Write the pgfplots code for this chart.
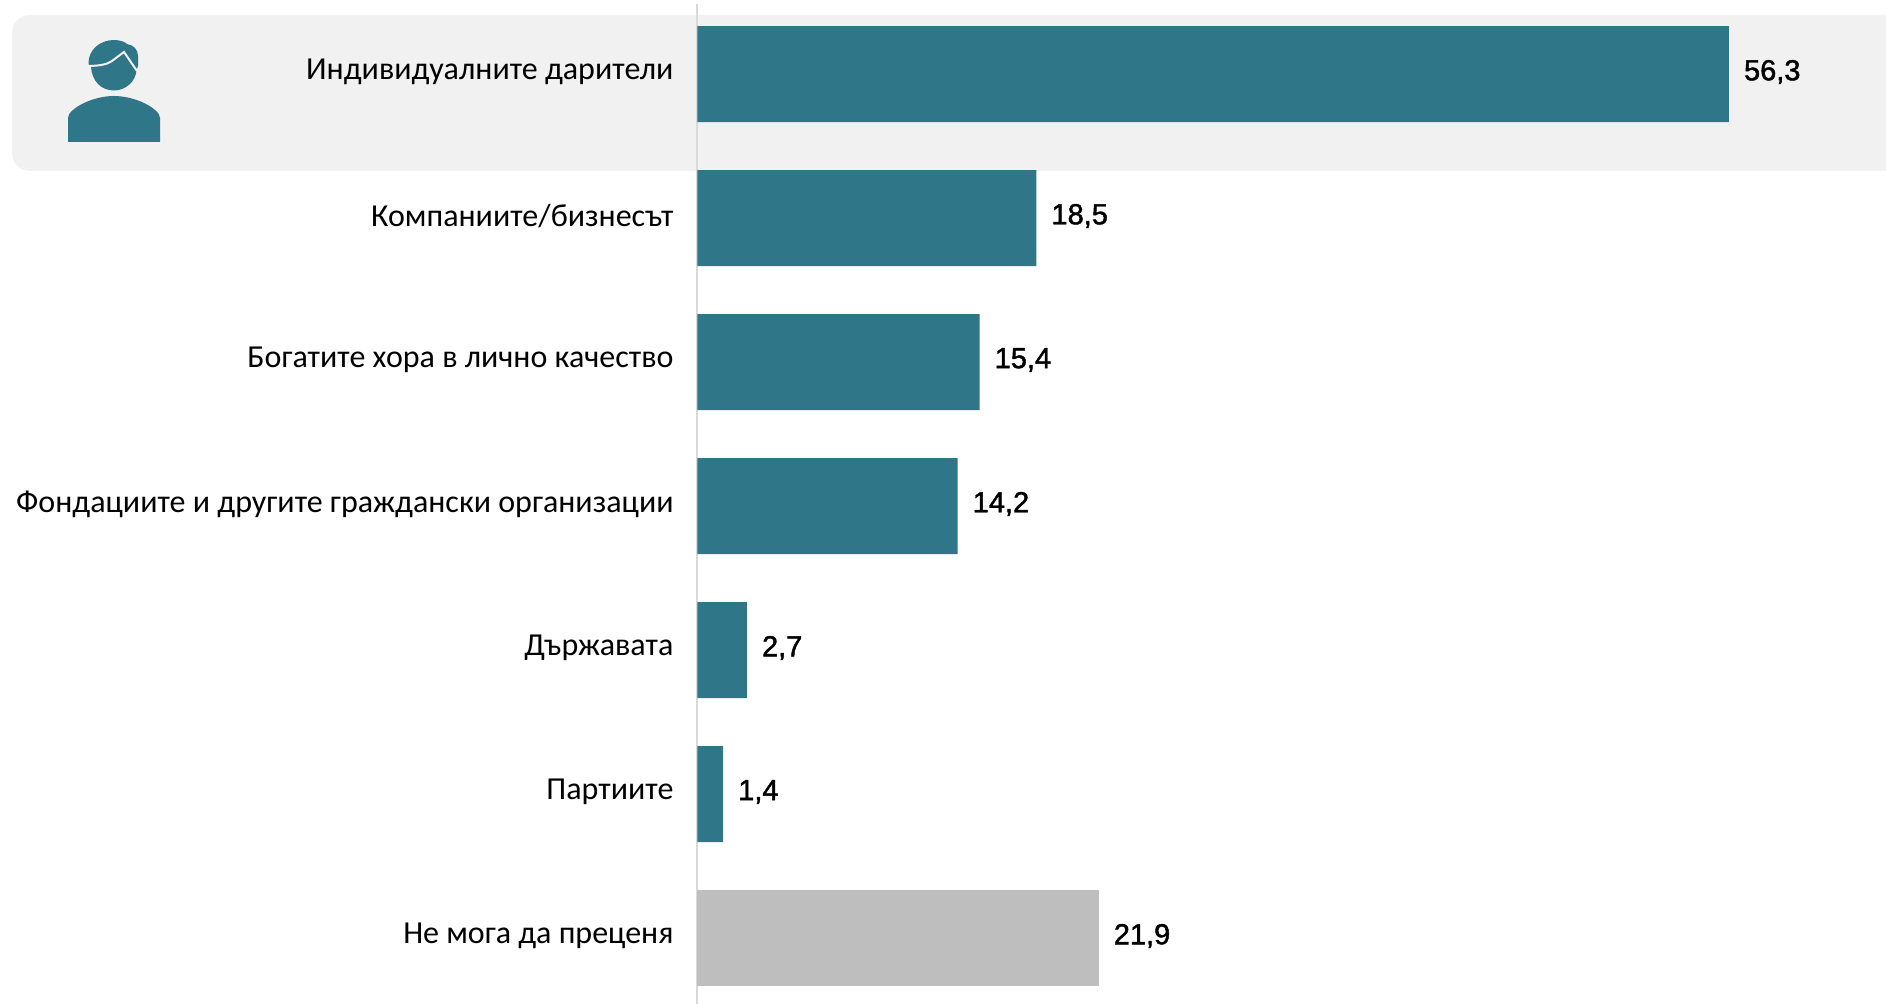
\documentclass[border=0pt]{standalone}
\usepackage{fontspec}
\usepackage{pgfplots}
\pgfplotsset{compat=1.18}
\setmainfont{Carlito}[Language=Bulgarian,Script=Cyrillic]
\newfontfamily\valfont{Liberation Sans}[FakeBold=1.5]
\definecolor{teal1}{HTML}{307689}
\definecolor{gray1}{HTML}{BEBEBE}
\definecolor{panel}{HTML}{F1F1F1}
\definecolor{axl}{HTML}{D9D9D9}
\begin{document}
\begin{tikzpicture}[x=0.5pt,y=-0.5pt]
\useasboundingbox (0,0) rectangle (1886,1004);
\fill[panel] (1886,15) -- (30,15) .. controls (20,15) and (12,23) .. (12,33) -- (12,153) .. controls (12,163) and (20,171) .. (30,171) -- (1886,171) -- cycle;
% icon
\fill[teal1] (88.5,64) .. controls (88,50) and (100,40) .. (114,40) .. controls (120,40) and (125,42) .. (127,44) .. controls (134,45) and (138,50) .. (138,56) -- (138,66) -- (136.5,70) .. controls (136,81) and (126,90.5) .. (114,90.5) .. controls (101,90.5) and (92,81) .. (91,67) -- cycle;
\draw[panel,line width=1pt] (88,66) .. controls (100,66) and (108,64) .. (112,61) -- (124,52) -- (137,71);
\fill[teal1] (68,142) -- (68,118) .. controls (68,109) and (92,96) .. (114,96) .. controls (136,96) and (160,109) .. (160,118) -- (160,142) -- cycle;
\begin{axis}[
  at={(348.75pt,-502pt)},anchor=south west,
  scale only axis,width=594.25pt,height=500.25pt,
  xmin=0,xmax=64.87,
  ymin=-0.4896,ymax=6.4583,y dir=reverse,
  axis x line=none,
  axis y line*=left,
  axis line style={axl,line width=1pt,-},
  ytick={0,1,2,3,4,5,6},
  yticklabels={Индивидуалните дарители,Компаниите/бизнесът,Богатите хора в лично качество,Фондациите и другите граждански организации,Държавата,Партиите,Не мога да преценя},
  yticklabel style={font=\fontsize{16}{18}\selectfont,text=black,xshift=-8.5pt,yshift=1pt},
  tick style={draw=none},
  major tick length=0pt,
  xbar,bar width=48pt,bar shift=0pt,
  clip=false,
  nodes near coords,
  point meta=explicit,
  nodes near coords style={font=\valfont\fontsize{14.5}{16}\selectfont,text=black,anchor=west,xshift=4pt,yshift=1pt,
    /pgf/number format/.cd,fixed,fixed zerofill,precision=1,use comma,assume math mode=true},
]
\addplot[fill=teal1,draw=none] coordinates {(56.3,0) [56.3] (18.5,1) [18.5] (15.4,2) [15.4] (14.2,3) [14.2] (2.7,4) [2.7] (1.4,5) [1.4]};
\addplot[fill=gray1,draw=none] coordinates {(21.9,6) [21.9]};
\end{axis}
\end{tikzpicture}
\end{document}
